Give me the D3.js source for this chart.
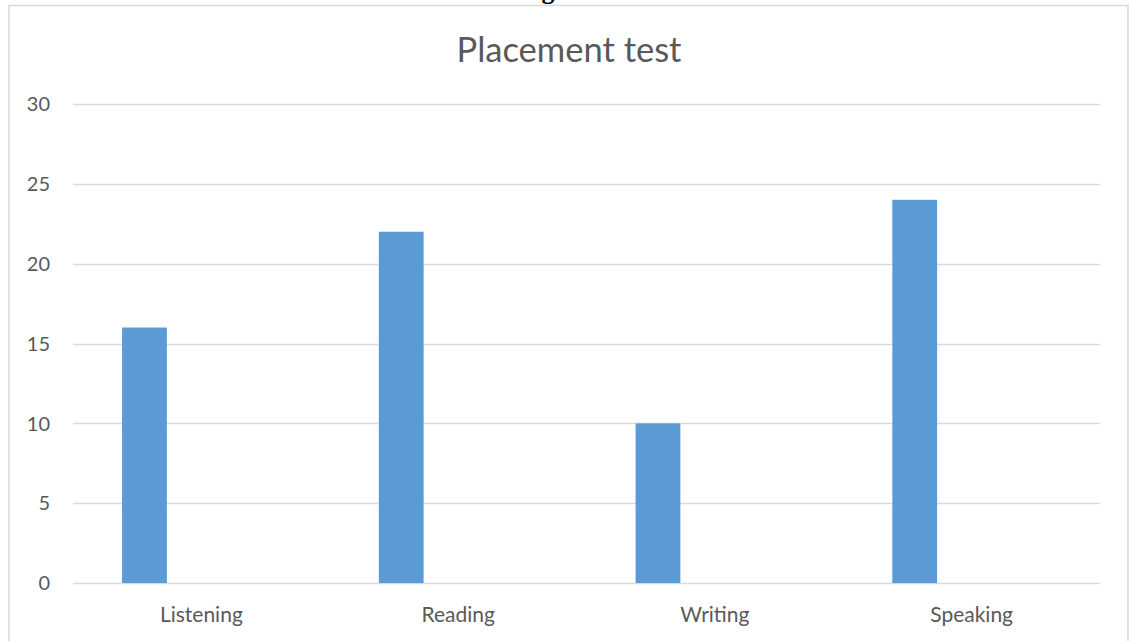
<!DOCTYPE html>
<html>
<head>
<meta charset="utf-8">
<script src="https://cdnjs.cloudflare.com/ajax/libs/d3/7.8.5/d3.min.js"></script>
<style>
  body { margin: 0; background: #fff; }
  text { font-family: Lato, "Open Sans", sans-serif; fill: #595959; }
</style>
</head>
<body>
<div id="chart"></div>
<script>
// data
const categories = ["Listening", "Reading", "Writing", "Speaking"];
const seriesNames = ["Series1", "Series2", "Series3"];
const series1 = [16, 22, 10, 24];
const series2 = [0, 0, 0, 0];
const series3 = [0, 0, 0, 0];
const yTicks = [0, 5, 10, 15, 20, 25, 30];

const width = 1129, height = 641;
const margin = { left: 73, right: 29, top: 104, bottom: 58 };

const svg = d3.select("#chart").append("svg")
    .attr("width", width)
    .attr("height", height);

// cut-off heading of the page above the chart
svg.append("text")
    .attr("x", 548)
    .attr("y", -1)
    .attr("text-anchor", "middle")
    .style("font-family", "'Liberation Serif', serif")
    .style("font-weight", "bold")
    .style("font-size", "26px")
    .style("fill", "#000")
    .text("g");

// chart frame
svg.append("rect")
    .attr("x", 9)
    .attr("y", 5.5)
    .attr("width", 1119)
    .attr("height", 700)
    .attr("fill", "#fff")
    .attr("stroke", "#D9D9D9")
    .attr("stroke-width", 1.5);

const x0 = d3.scaleBand()
    .domain(categories)
    .range([margin.left, width - margin.right])
    .padding(0);

// excel style: gap width 219%, overlap -27%
const x1 = d3.scaleBand()
    .domain(seriesNames)
    .range([0, x0.bandwidth()])
    .paddingInner(0.27 / 1.27)
    .paddingOuter(1.095 / 1.27);

const y = d3.scaleLinear()
    .domain([0, 30])
    .range([height - margin.bottom, margin.top]);

// gridlines
svg.append("g")
    .selectAll("line")
    .data(yTicks)
    .enter().append("line")
    .attr("x1", margin.left)
    .attr("x2", width - margin.right)
    .attr("y1", d => Math.round(y(d)) + 0.5)
    .attr("y2", d => Math.round(y(d)) + 0.5)
    .attr("stroke", "#D9D9D9")
    .attr("stroke-width", 1.5);

// y tick labels
svg.append("g")
    .selectAll("text")
    .data(yTicks)
    .enter().append("text")
    .attr("x", 50)
    .attr("y", d => y(d))
    .attr("dy", "0.36em")
    .attr("text-anchor", "end")
    .style("font-size", "20px")
    .text(d => d);

// bars
const allSeries = [series1, series2, series3];
const rows = [];
categories.forEach((c, i) => {
    seriesNames.forEach((s, j) => {
        rows.push({ cat: c, name: s, value: allSeries[j][i] });
    });
});

svg.append("g")
    .selectAll("rect")
    .data(rows.filter(d => d.value > 0))
    .enter().append("rect")
    .attr("x", d => x0(d.cat) + x1(d.name))
    .attr("y", d => y(d.value))
    .attr("width", x1.bandwidth())
    .attr("height", d => y(0) - y(d.value))
    .attr("fill", "#5B9BD5");

// category labels
svg.append("g")
    .selectAll("text")
    .data(categories)
    .enter().append("text")
    .attr("x", d => x0(d) + x0.bandwidth() / 2)
    .attr("y", 622)
    .attr("text-anchor", "middle")
    .style("font-size", "21px")
    .text(d => d);

// title
svg.append("text")
    .attr("x", 569)
    .attr("y", 62)
    .attr("text-anchor", "middle")
    .style("font-size", "34.5px")
    .text("Placement test");
</script>
</body>
</html>
